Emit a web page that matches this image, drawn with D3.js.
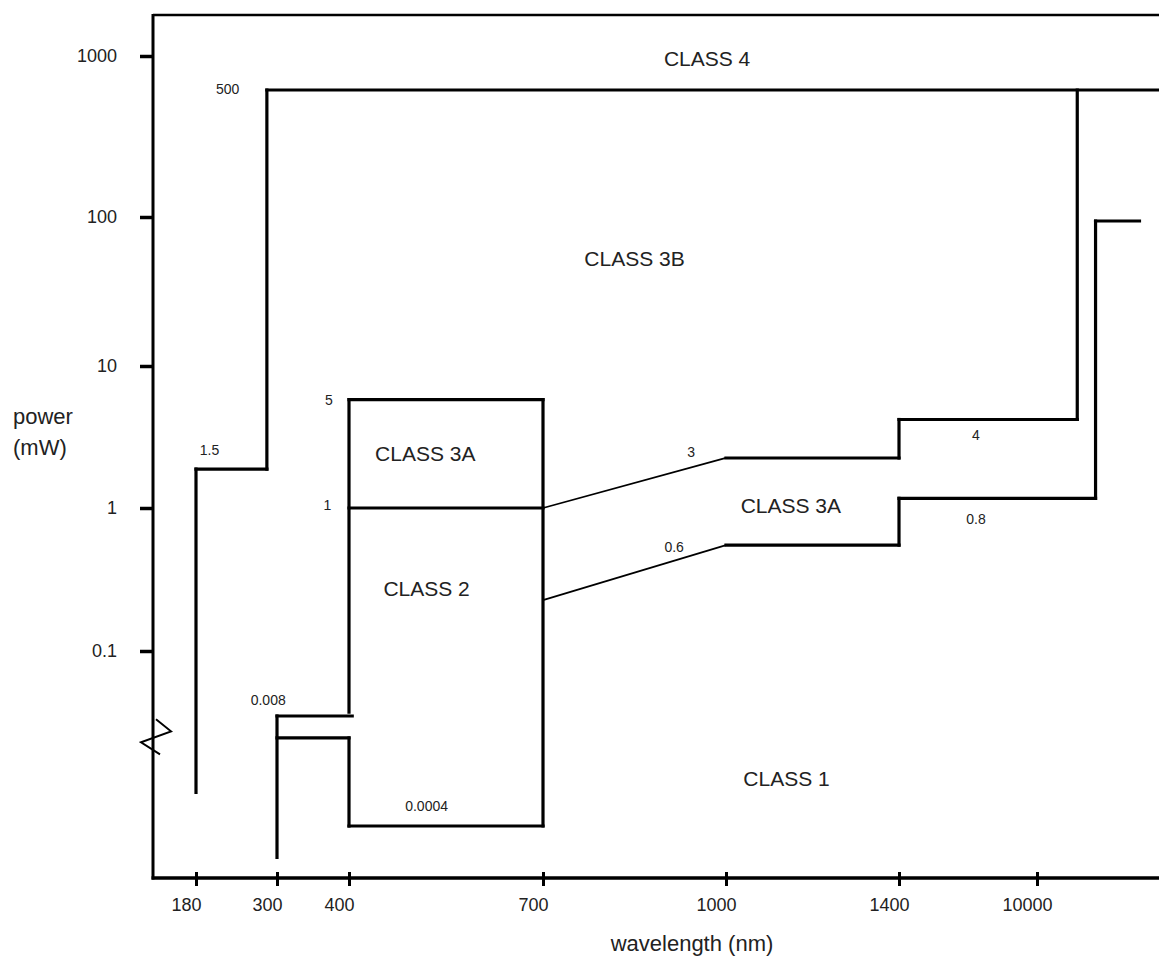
<!DOCTYPE html>
<html>
<head>
    <meta charset="utf-8">
    <title>Laser classes</title>
    <script src="https://d3js.org/d3.v7.min.js"></script>
    <style>
        html, body {
            margin: 0;
            background: #fff;
        }
    </style>
</head>
<body>
    <svg id="svg"></svg>
    <script>
        // axis ticks
        const wavelengthTicks = [180, 300, 400, 700, 1000, 1400, 10000];
        const powerTicks = [0.1, 1, 10, 100, 1000];

        // boundary lines, [wavelength nm, power mW]
        const class3bLower = [[180, 0.001], [180, 1.88], [285, 1.88], [285, 615], [20000, 615]];
        const class3aBox = [[400, 0.0093], [400, 5.8], [700, 5.8], [700, 0.0004], [400, 0.0004], [400, 0.0044]];
        const class2Upper = [[400, 1], [700, 1], [1000, 2.25], [1400, 2.25], [1400, 4.2], [13300, 4.2], [13300, 615]];
        const class1Upper = [[700, 0.227], [1000, 0.55], [1400, 0.55], [1400, 1.17], [14800, 1.17], [14800, 94], [18400, 94]];
        const uvUpper = [[300, 0.00017], [300, 0.008], [405, 0.008]];
        const uvLower = [[300, 0.0044], [400, 0.0044]];

        // small value labels
        const limitText = ["500", "1.5", "5", "1", "0.008", "0.0004", "3", "0.6", "4", "0.8"];
        const limitNm = [227, 200, 372, 370, 287, 520, 943, 915, 6200, 6200];
        const limitMw = [580, 2.36, 5.3, 0.968, 0.0123, 0.0006, 2.29, 0.492, 3.01, 0.773];

        // class names
        const classText = ["CLASS 4", "CLASS 3B", "CLASS 3A", "CLASS 2", "CLASS 3A", "CLASS 1"];
        const classNm = [969, 850, 518, 520, 1150, 1140];
        const classMw = [870, 47, 2.14, 0.243, 0.923, 0.00119];

        const breakMw = 0.0046;

        const width = 1159;
        const height = 958;
        const margins = { top: 15, left: 153, bottom: 878 };
        const font = "Arial, 'Liberation Sans', sans-serif";

        const svg = d3.select("#svg")
        .attr("width", width)
        .attr("height", height);

        // the hand drawn axes are not evenly spaced, so both scales are piecewise
        const x = d3.scaleLinear()
        .domain([180, 300, 400, 700, 1000, 1400, 10000, 20000])
        .range([196, 277, 349, 543, 726, 899, 1037, width]);

        const y = d3.scaleLog()
        .domain([0.0004, 0.008, 0.1, 1, 10, 100, 1000])
        .range([826, 716, 651, 508, 366, 217, 56]);

        // frame
        svg.append("line")
        .attr("x1", margins.left).attr("x2", width)
        .attr("y1", margins.top).attr("y2", margins.top)
        .attr("stroke", "#000").attr("stroke-width", 2.5);

        svg.append("line")
        .attr("x1", margins.left).attr("x2", margins.left)
        .attr("y1", margins.top - 1).attr("y2", margins.bottom + 1.5)
        .attr("stroke", "#000").attr("stroke-width", 3);

        svg.append("line")
        .attr("x1", margins.left - 1.5).attr("x2", width)
        .attr("y1", margins.bottom).attr("y2", margins.bottom)
        .attr("stroke", "#000").attr("stroke-width", 3.5);

        const yAxis = svg.append("g")
        .attr("transform", `translate(${margins.left},0)`)
        .call(d3.axisLeft(y).tickValues(powerTicks).tickFormat(d3.format("~g")).tickSize(13).tickPadding(23))
        .attr("font-size", 18)
        .attr("font-family", font);
        yAxis.select(".domain").remove();
        yAxis.selectAll(".tick line").attr("stroke", "#000").attr("stroke-width", 3.5);
        yAxis.selectAll(".tick text").attr("fill", "#222");

        const xAxis = svg.append("g")
        .attr("transform", `translate(0,${margins.bottom})`)
        .call(d3.axisBottom(x).tickValues(wavelengthTicks).tickFormat(d3.format("d")).tickSize(8).tickPadding(12))
        .attr("font-size", 18)
        .attr("font-family", font);
        xAxis.select(".domain").remove();
        xAxis.selectAll(".tick line").attr("y1", -6).attr("stroke", "#000").attr("stroke-width", 3);
        xAxis.selectAll(".tick text").attr("dx", -10).attr("fill", "#222");

        // axis break
        const by = y(breakMw);
        svg.append("path")
        .attr("d", d3.line()([[margins.left + 3, by - 17], [margins.left + 18, by - 5], [margins.left - 12, by + 6], [margins.left + 7, by + 18]]))
        .attr("fill", "none")
        .attr("stroke", "#000")
        .attr("stroke-width", 2);

        // boundaries
        const boundaries = [class3bLower, class3aBox, class2Upper, class1Upper, uvUpper, uvLower];
        const segments = boundaries.flatMap(pts => d3.pairs(pts));
        const straight = s => s[0][0] === s[1][0] || s[0][1] === s[1][1];

        svg.append("g")
        .selectAll("line")
        .data(segments)
        .enter()
        .append("line")
        .attr("x1", d => x(d[0][0]))
        .attr("y1", d => y(d[0][1]))
        .attr("x2", d => x(d[1][0]))
        .attr("y2", d => y(d[1][1]))
        .attr("stroke", "#000")
        .attr("stroke-width", d => straight(d) ? 3.2 : 1.8)
        .attr("stroke-linecap", d => straight(d) ? "square" : "butt");

        svg.append("g")
        .selectAll("text")
        .data(limitText)
        .enter()
        .append("text")
        .text(d => d)
        .attr("x", (d, i) => x(limitNm[i]))
        .attr("y", (d, i) => y(limitMw[i]))
        .attr("text-anchor", "middle")
        .attr("font-family", font)
        .attr("font-size", 14)
        .attr("fill", "#222");

        svg.append("g")
        .selectAll("text")
        .data(classText)
        .enter()
        .append("text")
        .text(d => d)
        .attr("x", (d, i) => x(classNm[i]))
        .attr("y", (d, i) => y(classMw[i]))
        .attr("text-anchor", "middle")
        .attr("font-family", font)
        .attr("font-size", 21)
        .attr("fill", "#222");

        // axis titles
        const yTitle = svg.append("text")
        .attr("font-family", font)
        .attr("font-size", 22)
        .attr("fill", "#222");
        yTitle.append("tspan").attr("x", 13).attr("y", 424).text("power");
        yTitle.append("tspan").attr("x", 13).attr("y", 455).text("(mW)");

        svg.append("text")
        .attr("x", 692)
        .attr("y", 951)
        .attr("text-anchor", "middle")
        .attr("font-family", font)
        .attr("font-size", 22)
        .attr("fill", "#222")
        .text("wavelength (nm)");
    </script>
</body>
</html>
